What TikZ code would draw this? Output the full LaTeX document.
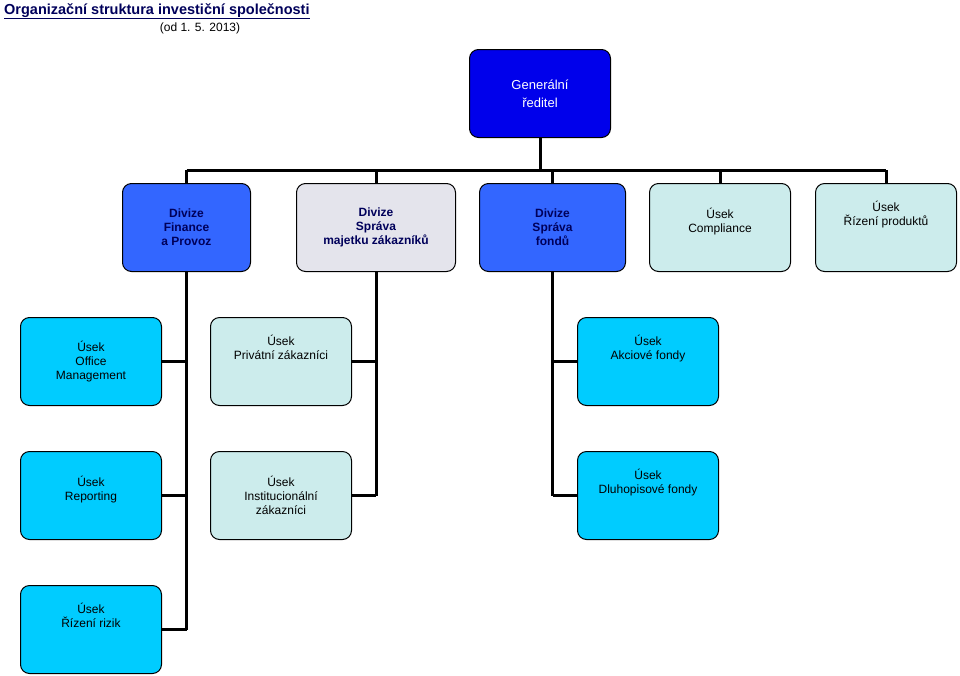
\documentclass[tikz,border=0pt]{standalone}
\usepackage{fontspec}
\setmainfont{Liberation Sans}
\begin{document}
\begin{tikzpicture}[x=1pt,y=-1pt,
 box/.style={draw=black,line width=1pt,rounded corners=9pt,align=center,anchor=north west,inner sep=0pt,font=\fontsize{12}{14}\selectfont},
 big/.style={box,minimum width=141pt,minimum height=88pt},
 dark/.style={big,fill=divblue,font=\fontsize{12}{14}\selectfont\bfseries,text=navy},
 lt/.style={big,fill=ltteal},
 cy/.style={big,fill=cyanb},
 ln/.style={line width=3pt}]
\definecolor{divblue}{RGB}{51,102,255}
\definecolor{navy}{RGB}{0,0,90}
\definecolor{ltteal}{RGB}{204,236,236}
\definecolor{cyanb}{RGB}{0,204,255}
\definecolor{grayb}{RGB}{228,228,236}
\definecolor{genblue}{RGB}{0,0,235}
\useasboundingbox (0,0) rectangle (960,675);
\node[anchor=north west,font=\fontsize{14.5}{16}\selectfont\bfseries,text=navy,inner sep=0pt] (title) at (4,3) {\underline{Organizační struktura investiční společnosti}};
\node[anchor=north,font=\fontsize{12}{14}\selectfont,inner sep=0pt] (sub) at (200,23) {(od 1. 5. 2013)};
\node[big,fill=genblue,text=white,font=\fontsize{13}{18}\selectfont] (gr) at (469,49) {Generální\\ředitel};
\node[dark,minimum width=128pt] (fp) at (122,183) {Divize\\Finance\\a Provoz};
\node[dark,minimum width=159pt,fill=grayb] (smz) at (296,183) {Divize\\Správa\\majetku zákazníků};
\node[dark,minimum width=146pt] (sf) at (479,183) {Divize\\Správa\\fondů};
\node[lt] (co) at (649,183) {\raisebox{0pt}[0pt][0pt]{}Úsek\\Compliance\\~};
\node[lt] (rp) at (815,183) {Úsek\\Řízení produktů\\~\\~};
\node[cy] (om) at (20,317) {Úsek\\Office\\Management};
\node[lt] (pz) at (210,317) {Úsek\\Privátní zákazníci\\~\\~};
\node[cy] (af) at (577,317) {Úsek\\Akciové fondy\\~\\~};
\node[cy] (re) at (20,451) {Úsek\\Reporting\\~};
\node[lt] (iz) at (210,451) {Úsek\\Institucionální\\zákazníci};
\node[cy] (df) at (577,451) {Úsek\\Dluhopisové fondy\\~\\~};
\node[cy] (rr) at (20,585) {Úsek\\Řízení rizik\\~\\~};
\coordinate (bus) at (0,170);
\draw[ln] (gr.south) -- (gr.south |- bus);
\draw[ln] (fp.north |- bus) -- (rp.north |- bus);
\foreach \n in {fp,smz,sf,co,rp} \draw[ln] (\n.north |- bus) -- (\n.north);
\draw[ln] (fp.south) -- (fp.south |- rr.east);
\foreach \n in {om,re,rr} \draw[ln] (\n.east) -- (fp.south |- \n.east);
\draw[ln] (smz.south) -- (smz.south |- iz.east);
\foreach \n in {pz,iz} \draw[ln] (\n.east) -- (smz.south |- \n.east);
\draw[ln] (sf.south) -- (sf.south |- df.west);
\foreach \n in {af,df} \draw[ln] (\n.west) -- (sf.south |- \n.west);
\end{tikzpicture}
\end{document}
